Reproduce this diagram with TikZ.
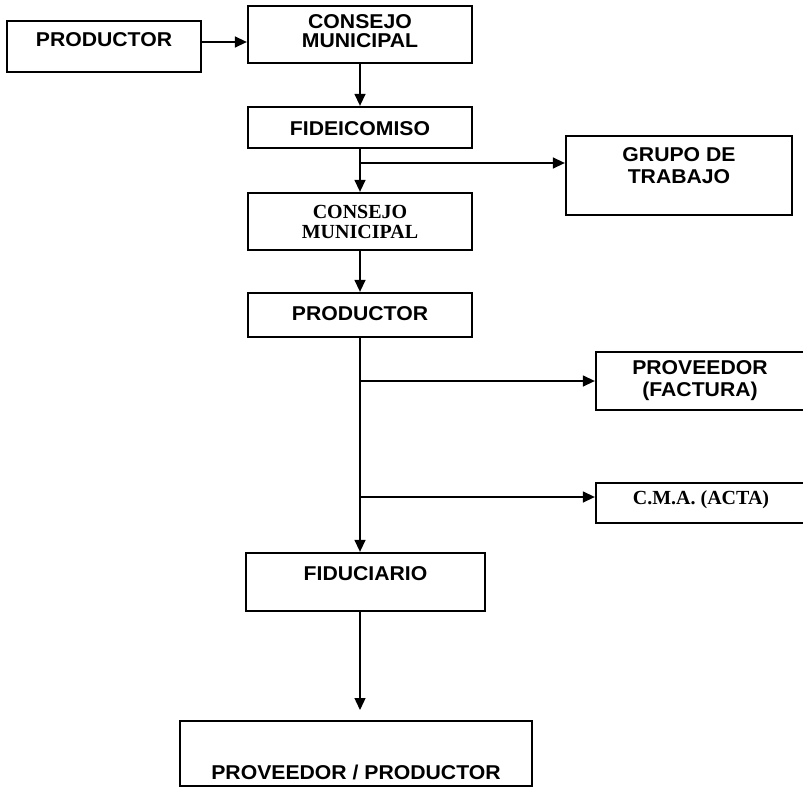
\documentclass[tikz,border=0pt]{standalone}
\usepackage{fontspec}
\setmainfont{Liberation Sans}[FakeStretch=1.06]
\newfontfamily\tnr{Liberation Serif}
\usetikzlibrary{arrows.meta}
\begin{document}
\begin{tikzpicture}[x=1pt,y=-1pt,
  box/.style={draw, line width=2.3pt, inner sep=0pt, rectangle},
  lbl/.style={font=\bfseries\fontsize{20}{22}\selectfont, align=center, inner sep=0pt},
  lblc/.style={font=\bfseries\fontsize{20}{19}\selectfont, align=center, inner sep=0pt},
  lbls/.style={font=\tnr\bfseries\fontsize{20}{20}\selectfont, align=center, inner sep=0pt},
  conn/.style={line width=1.4pt, -{Triangle[length=12pt,width=11pt]}}]
\useasboundingbox (0,0) rectangle (803,787);
\fill[white] (0,0) rectangle (803,787);

\node[box, minimum width=194pt, minimum height=51pt,
  label={[lbl,yshift=6.5pt]center:PRODUCTOR}] (prodA) at (104,46.5) {};
\node[box, minimum width=224pt, minimum height=57pt,
  label={[lblc,yshift=3pt]center:{CONSEJO\\MUNICIPAL}}] (consA) at (360,34.5) {};
\node[box, minimum width=224pt, minimum height=41pt,
  label={[lbl,yshift=-1pt]center:FIDEICOMISO}] (fide) at (360,127.5) {};
\node[box, minimum width=226pt, minimum height=79pt,
  label={[lbl,yshift=9.5pt]center:{GRUPO DE\\TRABAJO}}] (grupo) at (679,175.5) {};
\node[box, minimum width=224pt, minimum height=57pt,
  label={[lbls]center:{CONSEJO\\MUNICIPAL}}] (consB) at (360,221.5) {};
\node[box, minimum width=224pt, minimum height=44pt,
  label={[lbl,yshift=1.5pt]center:PRODUCTOR}] (prodB) at (360,315) {};
\node[box, minimum width=210pt, minimum height=58pt,
  label={[lbl,xshift=-1pt]center:{PROVEEDOR\\(FACTURA)}}] (prov) at (701,381) {};
\node[box, minimum width=210pt, minimum height=40pt,
  label={[lbls,yshift=3pt]center:C.M.A. (ACTA)}] (cma) at (701,503) {};
\node[box, minimum width=239pt, minimum height=58pt,
  label={[lbl,yshift=8pt]center:FIDUCIARIO}] (fidu) at (365.5,582) {};
\node[box, minimum width=352pt, minimum height=65pt,
  label={[lbl,yshift=-19pt]center:PROVEEDOR / PRODUCTOR}] (final) at (356,753.5) {};

\coordinate (b1) at (360,163);
\coordinate (b3) at (360,497);
\coordinate (tip) at (360,710);

\draw[conn] ([yshift=4.5pt]prodA.east) -- ([yshift=-7.5pt]consA.west);
\draw[conn] (consA) -- (fide);
\draw[conn] (fide) -- (consB);
\draw[conn] (b1) -- (b1 -| grupo.west);
\draw[conn] (consB) -- (prodB);
\draw[conn] (prodB.south) -- (prodB.south |- fidu.north);
\draw[conn] (prodB.south |- prov.west) -- (prov.west);
\draw[conn] (b3) -- (b3 -| cma.west);
\draw[conn] (prodB.south |- fidu.south) -- (tip);
\end{tikzpicture}
\end{document}
